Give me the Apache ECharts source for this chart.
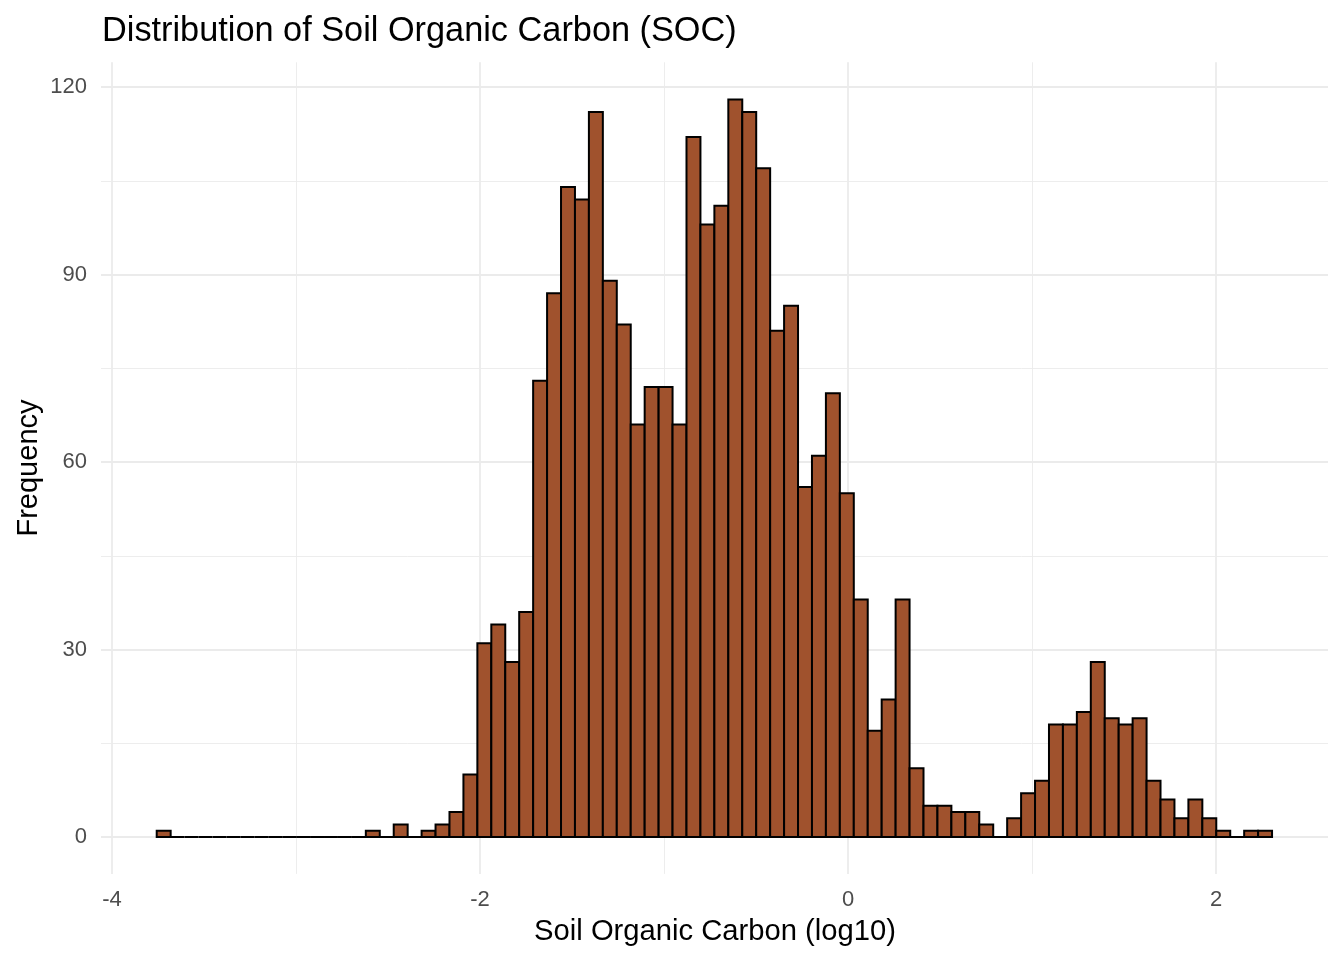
<!DOCTYPE html>
<html>
<head>
<meta charset="utf-8">
<script src="https://cdn.jsdelivr.net/npm/echarts@6/dist/echarts.min.js"></script>
<style>
html,body{margin:0;padding:0;background:#fff;}
#chart{width:1344px;height:960px;}
</style>
</head>
<body>
<div id="chart"></div>
<script>
// ---- data ----
const titleText = 'Distribution of Soil Organic Carbon (SOC)';
const xAxisTitle = 'Soil Organic Carbon (log10)';
const yAxisTitle = 'Frequency';
const binStart = -3.757;   // left edge of first bin (log10 units)
const binWidth = 0.07577;  // bin width (log10 units)
const counts = [
  1, 0, 0, 0, 0, 0, 0, 0, 0, 0,
  0, 0, 0, 0, 0, 1, 0, 2, 0, 1,
  2, 4, 10, 31, 34, 28, 36, 73, 87, 104,
  102, 116, 89, 82, 66, 72, 72, 66, 112, 98,
  101, 118, 116, 107, 81, 85, 56, 61, 71, 55,
  38, 17, 22, 38, 11, 5, 5, 4, 4, 2,
  0, 3, 7, 9, 18, 18, 20, 28, 19, 18,
  19, 9, 6, 3, 6, 3, 1, 0, 1, 1
];
const xTicks = [-4, -2, 0, 2];
const yTicks = [0, 30, 60, 90, 120];

// ---- build ----
const bins = counts.map((c, i) => [binStart + i * binWidth, binStart + (i + 1) * binWidth, c]);
const FONT = '"Liberation Sans", Arial, Helvetica, sans-serif';
const chart = echarts.init(document.getElementById('chart'), null, {renderer: 'canvas'});

const option = {
  backgroundColor: '#ffffff',
  animation: false,
  title: {
    text: titleText,
    left: 102,
    top: 14.5,
    padding: 0,
    textStyle: {fontFamily: FONT, fontSize: 34.3, fontWeight: 'normal', color: '#000000'}
  },
  grid: [
    {left: 112, right: 128, top: 62.3, bottom: 86.1},
    {left: 101, right: 16, top: 87, bottom: 123}
  ],
  xAxis: [
    {
      gridIndex: 0, type: 'value',
      min: xTicks[0], max: xTicks[xTicks.length - 1], interval: 2,
      axisLine: {show: false}, axisTick: {show: false},
      axisLabel: {margin: 15, color: '#4D4D4D', fontSize: 22, fontFamily: FONT},
      splitLine: {show: true, lineStyle: {color: '#EBEBEB', width: 1.8}},
      minorTick: {show: false, splitNumber: 2},
      minorSplitLine: {show: true, lineStyle: {color: '#EBEBEB', width: 0.9}}
    },
    {
      gridIndex: 1, type: 'value',
      min: -4.0598, max: 2.6087,
      show: false
    }
  ],
  yAxis: [
    {gridIndex: 0, type: 'value', min: 0, max: 1, show: false},
    {
      gridIndex: 1, type: 'value',
      min: yTicks[0], max: yTicks[yTicks.length - 1], interval: 30,
      axisLine: {show: false}, axisTick: {show: false},
      axisLabel: {margin: 14, color: '#4D4D4D', fontSize: 22, fontFamily: FONT, padding: [4, 0, 0, 0]},
      splitLine: {show: true, lineStyle: {color: '#EBEBEB', width: 1.8}},
      minorTick: {show: false, splitNumber: 2},
      minorSplitLine: {show: true, lineStyle: {color: '#EBEBEB', width: 0.9}}
    }
  ],
  series: [{
    type: 'custom',
    xAxisIndex: 1,
    yAxisIndex: 1,
    data: bins,
    encode: {x: [0, 1], y: 2},
    clip: false,
    renderItem: function (params, api) {
      const x0 = api.value(0), x1 = api.value(1), c = api.value(2);
      const pTop = api.coord([x0, c]);
      const pBot = api.coord([x1, 0]);
      return {
        type: 'rect',
        shape: {x: pTop[0], y: pTop[1], width: pBot[0] - pTop[0], height: pBot[1] - pTop[1]},
        style: {fill: '#A0522D', stroke: '#000000', lineWidth: 2}
      };
    }
  }],
  graphic: [
    {
      type: 'text', x: 715, y: 932,
      style: {text: xAxisTitle, fontSize: 29.2, fontFamily: FONT, fill: '#000000', align: 'center', verticalAlign: 'middle'}
    },
    {
      type: 'text', x: 29, y: 468, rotation: Math.PI / 2,
      style: {text: yAxisTitle, fontSize: 29, fontFamily: FONT, fill: '#000000', align: 'center', verticalAlign: 'middle'}
    }
  ]
};
chart.setOption(option);
</script>
</body>
</html>
